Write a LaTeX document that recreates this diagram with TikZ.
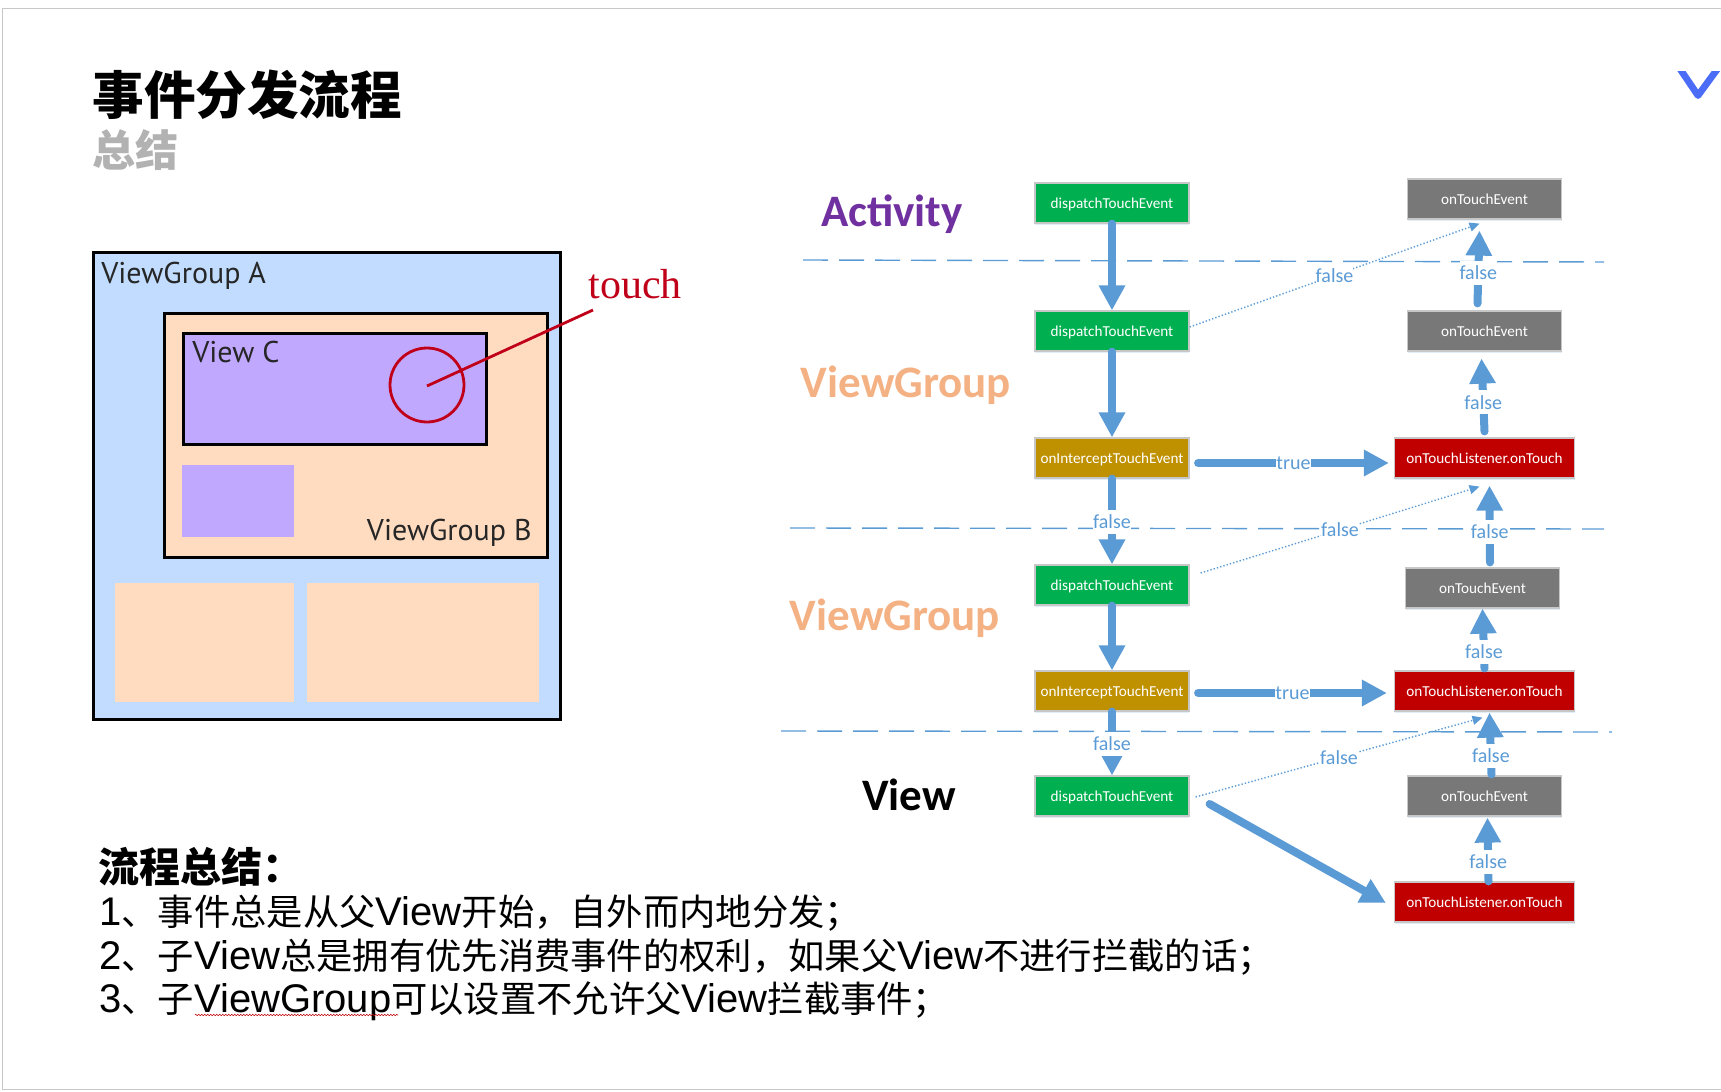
\documentclass[tikz,border=0pt]{standalone}
\usepackage{fontspec}
\setmainfont{Liberation Sans}
\newfontfamily\cjk{Noto Sans CJK SC}
\newfontfamily\calfont{Carlito}
\newfontfamily\picfont{PT Sans}
\newfontfamily\picserif{Liberation Serif}
\newcommand{\zh}[1]{{\cjk\fontsize{18.15}{20}\selectfont #1}}
\usetikzlibrary{arrows.meta,calc,shadows,decorations.pathmorphing}
\definecolor{flow}{HTML}{5B9BD5}
\definecolor{okgreen}{HTML}{00B050}
\definecolor{gold}{HTML}{BF9000}
\definecolor{stopred}{HTML}{C00000}
\definecolor{midgray}{HTML}{787878}
\definecolor{va}{HTML}{C1DCFF}
\definecolor{vb}{HTML}{FFDCC0}
\definecolor{vc}{HTML}{C0A8FF}
\definecolor{touchred}{HTML}{C00018}
\definecolor{logo}{HTML}{4A6CF7}
\definecolor{purple1}{HTML}{7030A0}
\definecolor{peach}{HTML}{F4B183}
\tikzset{
  box/.style={rectangle,inner sep=0pt,minimum height=20pt,text=white,draw=black!22,line width=.6pt,
    text height=6.6pt,text depth=1.6pt,
    font=\calfont\fontsize{7.6}{9}\selectfont,
    drop shadow={shadow xshift=0pt,shadow yshift=-1.2pt,opacity=.18,fill=flow}},
  disp/.style={box,minimum width=77pt,fill=okgreen},
  inter/.style={box,minimum width=77pt,fill=gold},
  over/.style={box,minimum width=77pt,fill=midgray},
  lis/.style={box,minimum width=90pt,fill=stopred},
  flowarrow/.style={draw=flow,line width=4pt,line cap=round,-{Triangle[width=12.5pt,length=12.5pt]}},
  slimhead/.style={draw=flow,line width=4pt,line cap=round,-{Triangle[width=10pt,length=10pt]}},
  dotarrow/.style={draw=flow,line width=.7pt,densely dotted,-{Triangle[width=4.5pt,length=5pt]}},
  sep/.style={draw=flow,line width=.7pt,dash pattern=on 12.5pt off 5.5pt},
  lab/.style={fill=white,inner sep=0pt,minimum height=12pt,text=flow,font=\calfont\fontsize{10}{12}\selectfont},
  role/.style={font=\calfont\bfseries\fontsize{22.5}{26}\selectfont},
  body/.style={anchor=base west,inner sep=0pt,font=\fontsize{20}{22}\selectfont},
  pane/.style={draw=black,line width=1.5pt},
  piclab/.style={inner sep=0pt,text=black!85,font=\picfont\fontsize{15}{17}\selectfont},
}
\begin{document}
\begin{tikzpicture}[x=.5pt,y=-.5pt]
\useasboundingbox (0,0) rectangle (1721,1092);
% slide frame
\draw[draw=black!22,line width=.6pt] (1721,8.5) -- (2.5,8.5) -- (2.5,1089.5) -- (1721,1089.5);
% title
\node[anchor=west,inner sep=0pt,font=\cjk\bfseries\fontsize{25.8}{28}\selectfont] (title) at (92,95) {事件分发流程};
\node[anchor=west,inner sep=0pt,text=black!30,font=\cjk\bfseries\fontsize{21.5}{24}\selectfont] (sub) at (92,150) {总结};
% logo
\begin{scope}
\clip (1660,71) rectangle (1721,110);
\draw[draw=logo,line width=3.4pt,line join=round] (1674,60) -- (1698,95.5) -- (1724,60);
\end{scope}
% left picture
\draw[pane,fill=va] (93,252) rectangle (560.5,719);
\draw[pane,fill=vb] (164,313) rectangle (547,557);
\draw[pane,fill=vc] (183,333) rectangle (486,444);
\fill[vc] (182,465) rectangle (294,537);
\fill[vb] (115,583) rectangle (294,702);
\fill[vb] (307,583) rectangle (539,702);
\node[piclab,anchor=west] (ga) at (101,276) {ViewGroup A};
\node[piclab,anchor=west] (vcl) at (192,352) {View C};
\node[piclab,anchor=east] (gb) at (532,533) {ViewGroup B};
\node[draw=touchred,line width=1.4pt,circle,minimum size=37pt,inner sep=0pt] (spot) at (427,385) {};
\coordinate (spotc) at (427,386);
\node[inner sep=0pt,anchor=west,text=touchred,font=\picserif\fontsize{21}{23}\selectfont] (tl) at (588,284) {touch};
\coordinate (tend) at (593,310);
\draw[draw=touchred,line width=1.4pt] (spotc) -- (tend);
% role labels
\node[role,text=purple1] (ract) at (892,214) {Activity};
\node[role,text=peach] (rvg1) at (906,385) {ViewGroup};
\node[role,text=peach] (rvg2) at (895,618) {ViewGroup};
\node[role,text=black] (rv) at (909,795) {View};
% flow boxes
\node[disp] (d1) at (1112,203) {dispatchTouchEvent};
\node[disp] (d2) at (1112,331) {dispatchTouchEvent};
\node[inter] (i1) at (1112,458) {onInterceptTouchEvent};
\node[disp] (d3) at (1112,585) {dispatchTouchEvent};
\node[inter] (i2) at (1112,691) {onInterceptTouchEvent};
\node[disp] (d4) at (1112,796) {dispatchTouchEvent};
\node[over] (t1) at (1484.5,199) {onTouchEvent};
\node[over] (t2) at (1484.5,331) {onTouchEvent};
\node[lis]  (l1) at (1484.5,458) {onTouchListener.onTouch};
\node[over] (t3) at (1482.5,588) {onTouchEvent};
\node[lis]  (l2) at (1484.5,691) {onTouchListener.onTouch};
\node[over] (t4) at (1484.5,796) {onTouchEvent};
\node[lis]  (l3) at (1484.5,902) {onTouchListener.onTouch};
% separators
\coordinate (s1a) at (803,260); \coordinate (s1b) at (1604,262);
\coordinate (s2a) at (790,528); \coordinate (s2b) at (1604,529);
\coordinate (s3a) at (781,731); \coordinate (s3b) at (1612,732);
\draw[sep] (s1a) -- (s1b);
\draw[sep] (s2a) -- (s2b);
\draw[sep] (s3a) -- (s3b);
% dotted returns
\draw[dotarrow] (d2.east) ++(0,-4) -- node[lab,pos=.5] {false} ($(t1.south)+(-5,4)$);
\draw[dotarrow] ($(d3.east)+(11,-12)$) -- node[lab,pos=.5] {false} ($(l1.south)+(-5,8)$);
\draw[dotarrow] ($(d4.east)+(6,1)$) -- node[lab,pos=.5] {false} ($(l2.south)+(-2,6)$);
% left column
\draw[flowarrow] (d1.south) -- (d2.north);
\draw[flowarrow] (d2.south) -- (i1.north);
\draw[flowarrow] (i1.south) -- node[lab,pos=.5] {false} (d3.north);
\draw[flowarrow] (d3.south) -- (i2.north);
\draw[slimhead] (i2.south) -- node[lab,pos=.5] {false} (d4.north);
% true arrows
\draw[flowarrow] ($(i1.east)+(8.5,5)$) -- node[lab,pos=.5] {true} ($(l1.west)+(-5,5)$);
\draw[flowarrow] ($(i2.east)+(8.5,2)$) -- node[lab,pos=.5] {true} ($(l2.west)+(-7,2)$);
\draw[flowarrow] ($(d4.east)+(20,8)$) -- ($(l3.west)+(-8,1)$);
% right column
\draw[flowarrow] ($(t2.north)+(-7,-7)$) -- node[lab,pos=.42] {false} ($(t1.south)+(-5,11)$);
\draw[flowarrow] ($(l1.north)+(0,-6)$) -- node[lab,pos=.4] {false} ($(t2.south)+(-3,7)$);
\draw[flowarrow] ($(t3.north)+(7.5,-5)$) -- node[lab,pos=.4] {false} ($(l1.south)+(5,7)$);
\draw[flowarrow] ($(l2.north)+(0,-2)$) -- node[lab,pos=.28] {false} (t3.south);
\draw[flowarrow] ($(t4.north)+(7,-1)$) -- node[lab,pos=.3] {false} ($(l2.south)+(5,1)$);
\draw[flowarrow] ($(l3.north)+(4,0)$) -- node[lab,pos=.31] {false} ($(t4.south)+(3,1)$);
% summary text
\node[anchor=base west,inner sep=0pt,font=\cjk\bfseries\fontsize{20.5}{24}\selectfont] (h) at (98,882) {流程总结：};
\node[body] (b1) at (99,925) {1\zh{、事件总是从父}View\zh{开始，自外而内地分发；}};
\node[body] (b2) at (99,969) {2\zh{、子}View\zh{总是拥有优先消费事件的权利，如果父}View\zh{不进行拦截的话；}};
\node[body] (b3) at (99,1012) {3\zh{、子}ViewGroup\zh{可以设置不允许父}View\zh{拦截事件；}};
\coordinate (sq1) at (195,1015); \coordinate (sq2) at (398,1015);
\draw[draw=red!75!black,line width=.3pt,decorate,decoration={zigzag,segment length=1.5pt,amplitude=.4pt}] (sq1) -- (sq2);
\end{tikzpicture}
\end{document}
